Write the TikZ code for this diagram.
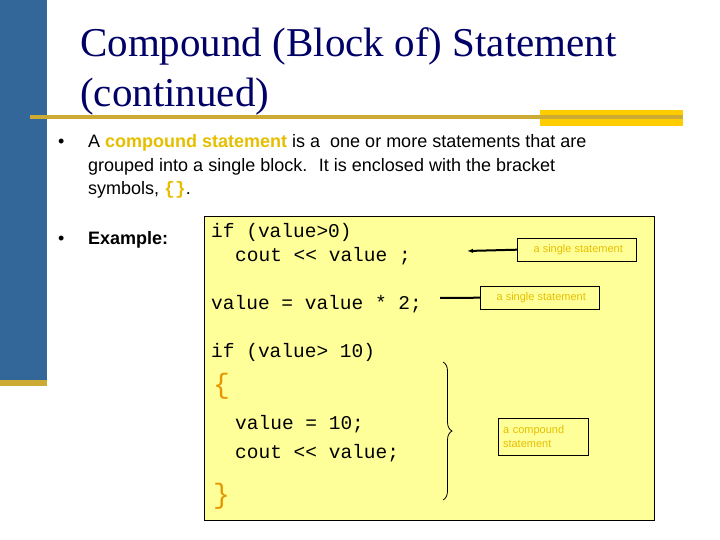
\documentclass[tikz,border=0pt]{standalone}
\usepackage{fontspec}
\setmainfont{Liberation Serif}
\setsansfont{Liberation Sans}
\setmonofont{Liberation Mono}
\usetikzlibrary{positioning, arrows.meta, decorations.pathreplacing}
\definecolor{navy}{RGB}{0,0,102}
\definecolor{barblue}{RGB}{51,102,153}
\definecolor{gold}{RGB}{204,170,51}
\definecolor{sunny}{RGB}{255,204,0}
\definecolor{pale}{RGB}{255,255,153}
\definecolor{keyword}{RGB}{230,190,0}
\definecolor{brace}{RGB}{230,150,0}
\tikzset{
  bullet/.style={anchor=base west, font=\sffamily\fontsize{18}{22}\selectfont, inner sep=0},
  code/.style={anchor=base west, font=\ttfamily\fontsize{19.5}{22}\selectfont, inner sep=0},
  note/.style={draw, anchor=north west, font=\sffamily\fontsize{11}{14}\selectfont, text=keyword, inner sep=0, align=left}
}
\begin{document}
\begin{tikzpicture}[x=1pt,y=-1pt]
        \useasboundingbox (0,0) rectangle (720,540);
        \fill[barblue] (0,0) rectangle (47,380);
        \fill[gold] (0,380) rectangle (47,386);
        \fill[sunny] (540,110) rectangle (683,126);
        \fill[gold] (30,115) rectangle (683,119);
        \node[anchor=base west, text=navy, font=\fontsize{41}{50}\selectfont, inner sep=0, align=left] (title) at (80,107)
            {Compound (Block of) Statement\\(continued)};
        \node[bullet] (b1) at (58,148) {\textbullet};
        \node[bullet] (t1) at (88,148) {A \textbf{\textcolor{keyword}{compound statement}} is a \ one or more statements that are};
        \node[bullet] (t2) at (88,172) {grouped into a single block. \ It is enclosed with the bracket};
        \node[bullet] (t3) at (88,195) {symbols, \textcolor{keyword}{\ttfamily\bfseries\{\}}.};
        \node[bullet] (b2) at (58,244) {\textbullet};
        \node[bullet, font=\sffamily\bfseries\fontsize{18}{22}\selectfont] (t4) at (88,244) {Example:};
        \draw[fill=pale] (204,216) rectangle (654,520);
        \node[code] (c1) at (211,237) {if (value>0)};
        \node[code] (c2) at (235,261) {cout << value ;};
        \node[code] (c3) at (211,309) {value = value * 2;};
        \node[code] (c4) at (211,357) {if (value> 10)};
        \node[code, text=brace, font=\ttfamily\fontsize{28}{30}\selectfont] (c5) at (213,393) {\{};
        \node[code] (c6) at (235,429) {value = 10;};
        \node[code] (c7) at (235,458) {cout << value;};
        \node[code, text=brace, font=\ttfamily\fontsize{28}{30}\selectfont] (c8) at (213,503) {\}};
        \node[note, minimum width=119, minimum height=23] (n1) at (517,238) {\ a single statement};
        \node[note, minimum width=119, minimum height=23] (n2) at (480,286) {\ a single statement};
        \node[note, minimum width=90, minimum height=37, text width=84] (n3) at (498,418) {\,a compound\\\,statement};
        \coordinate (p1) at (467,251);
        \coordinate (p2) at (440,298);
        \draw[line width=2pt, -{Latex[length=6pt]}] (n1.west) -- (p1);
        \draw[line width=2pt] (n2.west) -- (p2);
        \draw[thick, decorate, decoration={brace, amplitude=9pt}] (443,362) -- (443,500);
\end{tikzpicture}
\end{document}
